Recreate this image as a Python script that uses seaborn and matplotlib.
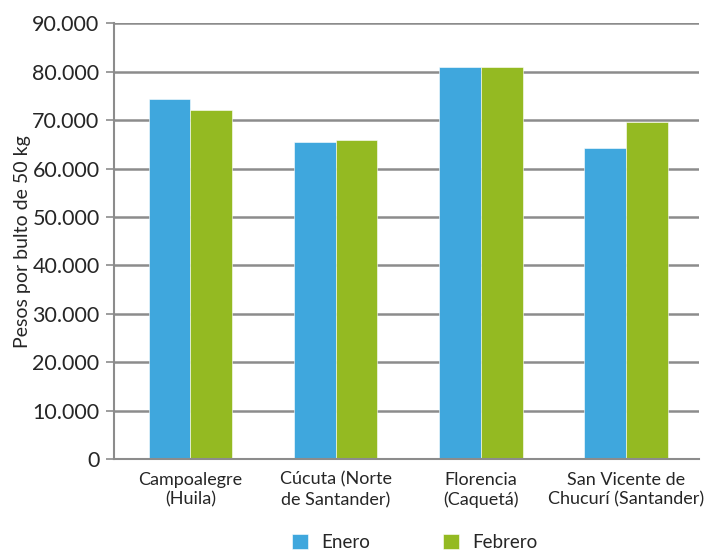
import matplotlib
matplotlib.use("Agg")
import matplotlib.pyplot as plt
import matplotlib.ticker as mticker
import seaborn as sns
import pandas as pd

# Data
ciudades = [
    "Campoalegre\n(Huila)",
    "Cúcuta (Norte\nde Santander)",
    "Florencia\n(Caquetá)",
    "San Vicente de\nChucurí (Santander)",
]
enero = [74400, 65500, 81000, 64200]
febrero = [72000, 66000, 81000, 69700]
meses = ["Enero", "Febrero"]
colores = ["#3FA7DD", "#94BA22"]

df = pd.DataFrame({
    "ciudad": ciudades * 2,
    "mes": [meses[0]] * 4 + [meses[1]] * 4,
    "pesos": enero + febrero,
})

sns.set_style("white")
plt.rcParams["font.family"] = ["Lato", "DejaVu Sans"]

fig = plt.figure(figsize=(7.05, 5.54), dpi=100)
ax = fig.add_axes([0.161, 0.171, 0.83, 0.787])

ax.set_axisbelow(True)
ax.grid(axis="y", color="#8c8c8c", linewidth=1.8)

sns.barplot(data=df, x="ciudad", y="pesos", hue="mes", palette=colores,
            width=0.575, gap=0, edgecolor="white", linewidth=0.4,
            saturation=1, ax=ax)

ax.set_ylim(0, 90000)
ax.set_xlim(-0.53, 3.5)
ax.yaxis.set_major_locator(mticker.MultipleLocator(10000))
ax.yaxis.set_major_formatter(mticker.FuncFormatter(
    lambda v, p: "0" if v == 0 else f"{int(v):,}".replace(",", ".")))

for side in ["top", "right"]:
    ax.spines[side].set_visible(False)
for side in ["left", "bottom"]:
    ax.spines[side].set_color("#8c8c8c")
    ax.spines[side].set_linewidth(1.5)

ax.tick_params(axis="y", length=6, width=1.2, color="#8c8c8c",
               labelsize=15.5, pad=4, left=True)
ax.tick_params(axis="x", length=0, labelsize=13, pad=9)
for lbl in ax.get_xticklabels():
    lbl.set_linespacing(1.3)
ax.set_xlabel("")
ax.set_ylabel("Pesos por bulto de 50 kg", fontsize=14, labelpad=1)

ax.legend(loc="upper center", bbox_to_anchor=(0.515, -0.133), ncol=2,
          frameon=False, fontsize=13.5, handlelength=0.85, handleheight=0.85,
          columnspacing=3.9, handletextpad=0.7)

fig.savefig("out.png", dpi=100)
